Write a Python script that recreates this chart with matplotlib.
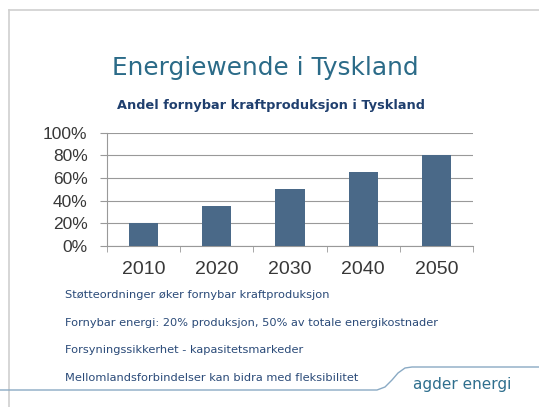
import matplotlib
matplotlib.use("Agg")
import matplotlib.pyplot as plt
import numpy as np
from matplotlib.lines import Line2D

# data
years = ["2010", "2020", "2030", "2040", "2050"]
share = [20, 35, 50, 65, 80]
yticks = [0, 20, 40, 60, 80, 100]
title = "Energiewende i Tyskland"
subtitle = "Andel fornybar kraftproduksjon i Tyskland"
bullets = [
    "Støtteordninger øker fornybar kraftproduksjon",
    "Fornybar energi: 20% produksjon, 50% av totale energikostnader",
    "Forsyningssikkerhet - kapasitetsmarkeder",
    "Mellomlandsforbindelser kan bidra med fleksibilitet",
]

W, H = 539, 407
fig = plt.figure(figsize=(W / 100, H / 100), dpi=100)
fig.patch.set_facecolor("white")

# slide frame
fig.add_artist(Line2D([9 / W, 9 / W], [0, 1 - 10 / H], color="#d0d0d0", lw=1.2))
fig.add_artist(Line2D([9 / W, 1], [1 - 10 / H, 1 - 10 / H], color="#d0d0d0", lw=1.2))

fig.text(265 / W, 1 - 68 / H, title, ha="center", va="center",
         fontsize=17.8, color="#2b6b88", family="DejaVu Sans")
fig.text(271 / W, 1 - 105 / H, subtitle, ha="center", va="center",
         fontsize=9.3, fontweight="bold", color="#1f3f6e", family="DejaVu Sans")

ax = fig.add_axes([107 / W, 1 - 246 / H, 366 / W, (246 - 132.7) / H])
x = np.arange(len(years))
ax.bar(x, share, width=0.4, color="#4a6988", zorder=3)
ax.set_xlim(-0.5, len(years) - 0.5)
ax.set_ylim(0, 100)
ax.set_yticks(yticks)
ax.set_yticklabels([f"{v}%" for v in yticks], fontsize=12.5, color="#383838",
                   family="Liberation Sans")
ax.set_xticks(x)
ax.set_xticklabels(years, fontsize=14, color="#383838", family="Liberation Sans")
ax.set_xticks(np.arange(-0.5, len(years)), minor=True)
ax.tick_params(axis="x", which="major", length=0, pad=11)
ax.tick_params(axis="x", which="minor", length=4, color="#999999")
ax.tick_params(axis="y", length=5, color="#999999", pad=9)
ax.grid(axis="y", color="#999999", lw=0.8, zorder=0)
for s in ["top", "right"]:
    ax.spines[s].set_visible(False)
for s in ["left", "bottom"]:
    ax.spines[s].set_color("#999999")

# bullet text
for i, b in enumerate(bullets):
    fig.text(65 / W, 1 - (295 + i * 27.7) / H, b, ha="left", va="center",
             fontsize=8.2, color="#2a4a78", family="DejaVu Sans")

# footer swoosh
xs = np.array([0, 377, 385, 392, 398, 405, 412, 539], dtype=float)
ys = np.array([390, 390, 387, 380, 373, 368, 367, 367], dtype=float)
fig.add_artist(Line2D(xs / W, 1 - ys / H, color="#8aaac4", lw=1.0))
fig.text(462 / W, 1 - 385 / H, "agder energi", ha="center", va="center",
         fontsize=11, color="#2f6f8e", family="DejaVu Sans")

fig.savefig("out.png", dpi=100)
